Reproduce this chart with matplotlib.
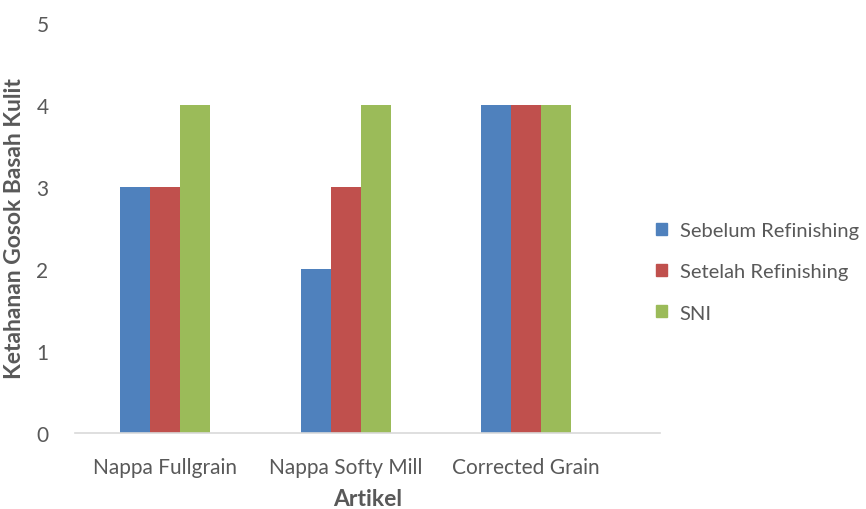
import matplotlib.pyplot as plt
import numpy as np
from matplotlib.patches import Patch

categories = ["Nappa Fullgrain", "Nappa Softy Mill", "Corrected Grain"]
series_names = ["Sebelum Refinishing", "Setelah Refinishing", "SNI"]
sebelum = [3, 2, 4]
setelah = [3, 3, 4]
sni = [4, 4, 4]
colors = ["#4F81BD", "#C0504D", "#9BBB59"]

plt.rcParams["font.family"] = ["Lato", "DejaVu Sans"]
TEXT = "#595959"

fig = plt.figure(figsize=(8.66, 5.10), dpi=100)
ax = fig.add_axes([0.0866, 0.149, 0.762 - 0.0866, 0.953 - 0.149])

x = np.arange(len(categories))
width = 0.166
for i, (vals, color) in enumerate(zip([sebelum, setelah, sni], colors)):
    ax.bar(x + (i - 1) * width, vals, width, color=color, label=series_names[i])

ax.set_xlim(-0.5, 2.74)
ax.set_ylim(0, 5)
ax.set_yticks(range(6))
ax.set_xticks(x)
ax.set_xticklabels(categories)
ax.tick_params(axis="both", length=0, colors=TEXT, labelsize=15)
ax.tick_params(axis="x", pad=17)
ax.tick_params(axis="y", pad=19)

for side in ["top", "right", "left"]:
    ax.spines[side].set_visible(False)
ax.spines["bottom"].set_color("#D9D9D9")
ax.spines["bottom"].set_linewidth(1.2)

ax.set_ylabel("Ketahanan Gosok Basah Kulit", fontsize=16.5, fontweight="bold",
              color=TEXT, labelpad=8)
ax.set_xlabel("Artikel", fontsize=16.5, fontweight="bold", color=TEXT, labelpad=8)

handles = [Patch(color=c) for c in colors]
fig.legend(handles, series_names, loc="center left", bbox_to_anchor=(0.737, 0.465),
           frameon=False, fontsize=14.5, labelcolor=TEXT, handlelength=0.55,
           handleheight=0.55, handletextpad=0.6, labelspacing=1.2)

fig.savefig("out.png", dpi=100)
